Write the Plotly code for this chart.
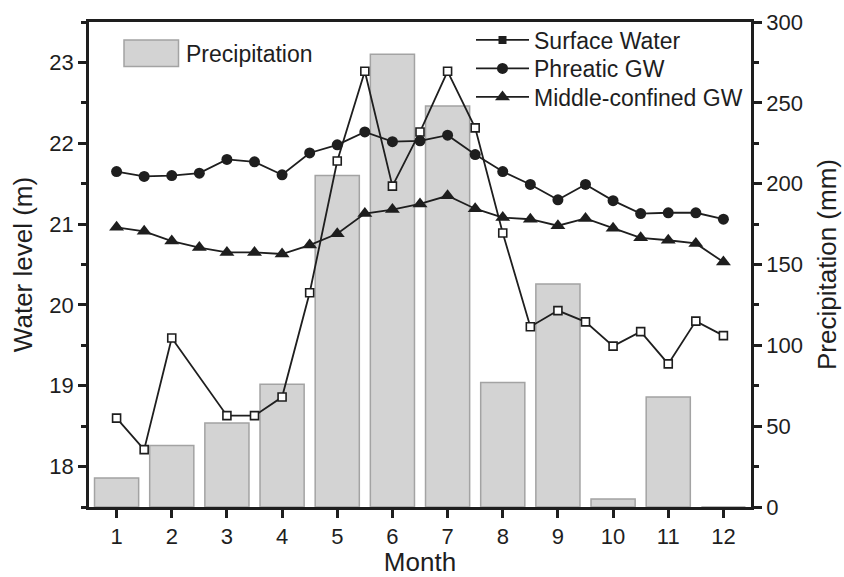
import plotly.graph_objects as go

# Half-monthly sampling dates for water levels
half_months = [1, 1.5, 2, 2.5, 3, 3.5, 4, 4.5, 5, 5.5, 6, 6.5,
               7, 7.5, 8, 8.5, 9, 9.5, 10, 10.5, 11, 11.5, 12]

# Water level (m); surface water has no record at 2.5
surface_water = [18.60, 18.21, 19.59, None, 18.63, 18.63, 18.86, 20.15,
                 21.78, 22.89, 21.47, 22.14, 22.89, 22.19, 20.89, 19.73,
                 19.93, 19.79, 19.49, 19.67, 19.27, 19.80, 19.62]
phreatic_gw = [21.65, 21.59, 21.60, 21.63, 21.80, 21.77, 21.61, 21.88,
               21.98, 22.14, 22.02, 22.03, 22.10, 21.86, 21.65, 21.49,
               21.30, 21.49, 21.29, 21.13, 21.14, 21.14, 21.06]
middle_gw = [20.96, 20.91, 20.79, 20.71, 20.65, 20.65, 20.63, 20.74,
             20.88, 21.13, 21.18, 21.25, 21.35, 21.19, 21.08, 21.06,
             20.98, 21.07, 20.95, 20.83, 20.80, 20.76, 20.53]

# Monthly precipitation (mm)
months = [1, 2, 3, 4, 5, 6, 7, 8, 9, 10, 11, 12]
precipitation = [18, 38, 52, 76, 205, 280, 248, 77, 138, 5, 68, 0]

FONT = "Liberation Sans, Arial, sans-serif"
INK = "#1e1e1e"
AXIS_W = 2.8

fig = go.Figure()

# Precipitation bars on the base (right-hand) axis so lines draw on top
fig.add_trace(go.Bar(
    x=months, y=precipitation, width=0.8, yaxis="y",
    marker=dict(color="#d3d3d3", line=dict(color="#a3a3a3", width=1.5)),
    showlegend=False, hoverinfo="x+y",
))

line_style = dict(color=INK, width=1.8)

fig.add_trace(go.Scatter(
    x=half_months, y=surface_water, yaxis="y2", mode="lines+markers",
    connectgaps=True, line=line_style, showlegend=False,
    marker=dict(symbol="square", size=8, color="white",
                line=dict(color=INK, width=1.6)),
    name="Surface Water",
))
fig.add_trace(go.Scatter(
    x=half_months, y=phreatic_gw, yaxis="y2", mode="lines+markers",
    line=line_style, name="Phreatic GW", showlegend=False,
    marker=dict(symbol="circle", size=11, color=INK),
))
fig.add_trace(go.Scatter(
    x=half_months, y=middle_gw, yaxis="y2", mode="lines+markers",
    line=line_style, name="Middle-confined GW", showlegend=False,
    marker=dict(symbol="triangle-up", size=13, color=INK),
))

W, H = 844, 577
L, R, T, B = 89, 93, 22, 70
pw, ph = W - L - R, H - T - B


def px_x(p):
    return (p - L) / pw


def px_y(p):
    return (H - B - p) / ph


# Key entries (filled symbols), one small legend per row
key_rows = [("Surface Water", "square", 8, "legend", 40),
            ("Phreatic GW", "circle", 11, "legend2", 68.5),
            ("Middle-confined GW", "triangle-up", 13, "legend3", 97)]
legend_font = dict(family=FONT, size=23, color=INK)
legend_layouts = {}
for name, sym, size, lg, ycen in key_rows:
    fig.add_trace(go.Scatter(
        x=[None], y=[None], yaxis="y2", mode="lines+markers", name=name,
        legend=lg, line=line_style, marker=dict(symbol=sym, size=size, color=INK),
    ))
    legend_layouts[lg] = dict(
        x=px_x(471), y=px_y(ycen), xanchor="left", yanchor="middle",
        bgcolor="rgba(0,0,0,0)", borderwidth=0, font=legend_font,
        itemwidth=53, itemsizing="trace",
    )

# Precipitation key: swatch and label
fig.add_shape(type="rect", xref="paper", yref="paper",
              x0=px_x(124), x1=px_x(178.5), y0=px_y(66.5), y1=px_y(40),
              fillcolor="#d3d3d3", line=dict(color="#a3a3a3", width=1.5))
fig.add_annotation(xref="paper", yref="paper", x=px_x(184), y=px_y(53.5),
                   xanchor="left", yanchor="middle", showarrow=False,
                   text="Precipitation", font=legend_font)

tick_font = dict(family=FONT, size=22, color=INK)
title_font = dict(family=FONT, size=26, color=INK)

fig.update_layout(
    width=W, height=H,
    margin=dict(l=L, r=R, t=T, b=B),
    paper_bgcolor="white", plot_bgcolor="white",
    font=dict(family=FONT, color=INK),
    bargap=0.2,
    xaxis=dict(
        range=[0.5, 12.5], tickvals=months, ticktext=[str(m) for m in months],
        ticks="outside", ticklen=8, tickwidth=AXIS_W, tickcolor=INK,
        showline=True, linewidth=AXIS_W, linecolor=INK, mirror=True,
        showgrid=False, zeroline=False, tickfont=tick_font, automargin=False,
        title=dict(text="Month", font=title_font, standoff=10),
    ),
    yaxis=dict(
        side="right", range=[0, 300], tick0=0, dtick=50,
        ticks="outside", ticklen=8, tickwidth=AXIS_W, tickcolor=INK,
        minor=dict(dtick=25, ticks="outside", ticklen=5, tickwidth=AXIS_W, tickcolor=INK),
        showline=True, linewidth=AXIS_W, linecolor=INK,
        showgrid=False, zeroline=False, tickfont=tick_font, automargin=False,
        title=dict(text="Precipitation (mm)", font=title_font, standoff=16),
    ),
    yaxis2=dict(
        overlaying="y", side="left", range=[17.5, 23.5], tick0=18, dtick=1,
        ticks="outside", ticklen=8, tickwidth=AXIS_W, tickcolor=INK,
        minor=dict(dtick=0.5, ticks="outside", ticklen=5, tickwidth=AXIS_W, tickcolor=INK),
        showline=True, linewidth=AXIS_W, linecolor=INK,
        showgrid=False, zeroline=False, tickfont=tick_font, automargin=False,
        title=dict(text="Water level (m)", font=title_font, standoff=10),
    ),
    **legend_layouts,
)

fig.write_html("out.html")
